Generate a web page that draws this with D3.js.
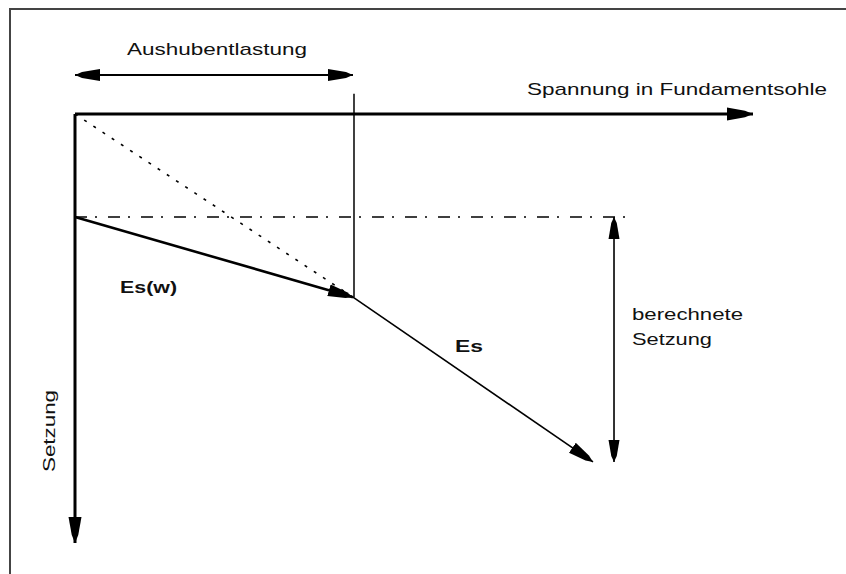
<!DOCTYPE html>
<html>
<head>
<meta charset="utf-8">
<script src="https://cdn.jsdelivr.net/npm/d3@7"></script>
<style>
  html, body { margin: 0; padding: 0; background: #fff; }
  text { font-family: "Liberation Sans", Arial, sans-serif; fill: #111; }
</style>
</head>
<body>
<div id="chart"></div>
<script>
// diagram values (stress on x, settlement on y, both in relative units 0..100)
const axisLabels = ['Spannung in Fundamentsohle', 'Setzung'];
const stressDomain = [0, 100];
const settlementDomain = [0, 100];
const unloadRange = [0, 41];          // Aushubentlastung
const unloadLevel = [-9.1];           // height of the dimension arrow above the axis
const unloadMarkTop = [-4.7];
const curveEsw = [[0, 24], [41, 42.7]];
const curveEs = [[41, 42.7], [76.4, 81.1]];
const secant = [[0, 0], [41, 42.7]];
const startLevel = [[0, 24], [82, 24]];
const calcSettlement = [79.5, 24, 81.1]; // x, from, to
const curveLabels = ['Es(w)', 'Es'];
const dimLabels = ['Aushubentlastung', 'berechnete', 'Setzung'];

const W = 846, H = 574;
const svg = d3.select('#chart').append('svg')
  .attr('width', W).attr('height', H);

const x = d3.scaleLinear().domain(stressDomain).range([75, 753]);
const y = d3.scaleLinear().domain(settlementDomain).range([114, 543]);

const defs = svg.append('defs');
function arrow(id, len, half, tail) {
  defs.append('marker')
    .attr('id', id)
    .attr('markerUnits', 'userSpaceOnUse')
    .attr('viewBox', `${-len} ${-half - 1} ${len + 1} ${2 * half + 2}`)
    .attr('refX', 0).attr('refY', 0)
    .attr('markerWidth', len + 1).attr('markerHeight', 2 * half + 2)
    .attr('orient', 'auto-start-reverse')
    .append('path')
    .attr('d', `M${-len},${-half} L${-tail},${-half * 0.5} L0,0 L${-tail},${half * 0.5} L${-len},${half} Z`)
    .attr('fill', '#000');
}
arrow('headBig', 26, 6.5, 8);
arrow('headMid', 25, 6, 7);
arrow('headSmall', 22, 5.5, 6);

const line = d3.line().x(d => x(d[0])).y(d => y(d[1]));

// frame
svg.append('path')
  .attr('d', `M10,${H} L10,9 L${W},9`)
  .attr('fill', 'none').attr('stroke', '#444').attr('stroke-width', 2);

// axes
svg.append('path')
  .attr('d', line([[stressDomain[0], 0], [stressDomain[1], 0]]))
  .attr('stroke', '#000').attr('stroke-width', 3)
  .attr('marker-end', 'url(#headBig)');
svg.append('path')
  .attr('d', line([[0, settlementDomain[0]], [0, settlementDomain[1]]]))
  .attr('stroke', '#000').attr('stroke-width', 3)
  .attr('marker-end', 'url(#headBig)');

// Aushubentlastung dimension
svg.append('path')
  .attr('d', line([[unloadRange[0], unloadLevel[0]], [unloadRange[1], unloadLevel[0]]]))
  .attr('stroke', '#000').attr('stroke-width', 2)
  .attr('marker-start', 'url(#headMid)')
  .attr('marker-end', 'url(#headMid)');
svg.append('path')
  .attr('d', line([[unloadRange[1] + 0.15, unloadMarkTop[0]], [unloadRange[1] + 0.15, curveEsw[1][1]]]))
  .attr('stroke', '#000').attr('stroke-width', 1.5);

// secant (dotted)
svg.append('path')
  .attr('d', line(secant))
  .attr('stroke', '#000').attr('stroke-width', 1.6)
  .attr('stroke-dasharray', '3,8');

// dash-dot level of start
svg.append('path')
  .attr('d', line(startLevel))
  .attr('stroke', '#000').attr('stroke-width', 1.5)
  .attr('stroke-dasharray', '12,8,2,11');

// Es(w) and Es
svg.append('path')
  .attr('d', line(curveEsw))
  .attr('stroke', '#000').attr('stroke-width', 2.6)
  .attr('marker-end', 'url(#headMid)');
svg.append('path')
  .attr('d', line(curveEs))
  .attr('stroke', '#000').attr('stroke-width', 1.6)
  .attr('marker-end', 'url(#headMid)');

// berechnete Setzung dimension
svg.append('path')
  .attr('d', line([[calcSettlement[0], calcSettlement[1]], [calcSettlement[0], calcSettlement[2]]]))
  .attr('stroke', '#000').attr('stroke-width', 1.6)
  .attr('marker-start', 'url(#headSmall)')
  .attr('marker-end', 'url(#headSmall)');

// texts
function label(txt, px, py, len, opts = {}) {
  const t = svg.append('text')
    .attr('x', px).attr('y', py)
    .attr('font-size', opts.size || 17)
    .attr('font-weight', opts.bold ? 'bold' : 'normal')
    .attr('textLength', len)
    .attr('lengthAdjust', 'spacingAndGlyphs')
    .text(txt);
  if (opts.rotate) t.attr('transform', `rotate(-90 ${px} ${py})`);
  return t;
}
label(dimLabels[0], 127, 55, 180);
label(axisLabels[0], 527, 95, 300);
label(dimLabels[1], 632, 320, 111);
label(dimLabels[2], 632, 345, 80);
label(axisLabels[1], 55, 472, 82, { rotate: true });
label(curveLabels[0], 120, 293, 57, { bold: true });
label(curveLabels[1], 455, 352, 28, { bold: true });
</script>
</body>
</html>
